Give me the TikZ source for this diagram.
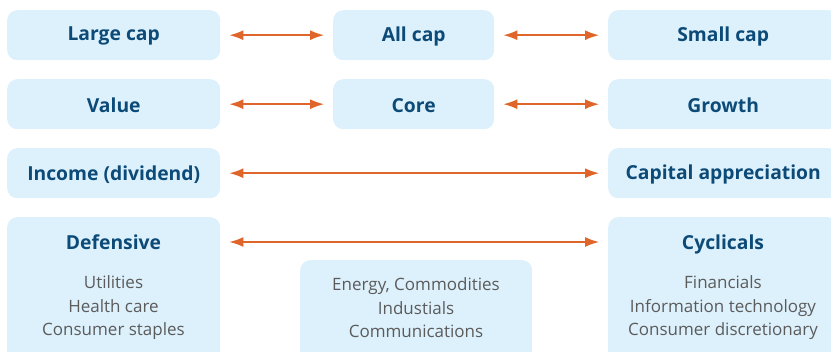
\documentclass[tikz,border=0pt]{standalone}
\usepackage{fontspec}
\setmainfont{Open Sans}
\usetikzlibrary{arrows.meta}
\definecolor{boxfill}{HTML}{DDF1FC}
\definecolor{titleblue}{HTML}{0C4A78}
\definecolor{itemgray}{HTML}{5B5B5B}
\definecolor{arroworange}{HTML}{E0652A}
\tikzset{
  box/.style={fill=boxfill, rounded corners=10pt, inner sep=0pt, anchor=north west},
  ttl/.style={text=titleblue, font=\fontsize{19.3}{22}\selectfont\bfseries, inner sep=0pt},
  itm/.style={text=itemgray, font=\fontsize{17}{23.5}\selectfont, align=center, inner sep=0pt},
  dbl/.style={arroworange, line width=1.4pt, {Latex[length=14pt,width=10pt]}-{Latex[length=14pt,width=10pt]}, shorten <=9pt, shorten >=9pt}
}
\begin{document}
\begin{tikzpicture}[x=1pt,y=-1pt]
\useasboundingbox (0,0) rectangle (831,352);
\clip (0,0) rectangle (831,352);
% row 1
\node[box, minimum width=213pt, minimum height=50pt] (lc) at (7,10) {};
\node[box, minimum width=161pt, minimum height=50pt] (ac) at (333,10) {};
\node[box, minimum width=230pt, minimum height=50pt] (sc) at (608,10) {};
\node[ttl] (lct) at ([yshift=-1pt]lc.center) {Large cap};
\node[ttl] (act) at ([yshift=-1pt]ac.center) {All cap};
\node[ttl] (sct) at ([yshift=-1pt]sc.center) {Small cap};
% row 2
\node[box, minimum width=213pt, minimum height=50pt] (va) at (7,79) {};
\node[box, minimum width=161pt, minimum height=50pt] (co) at (333,79) {};
\node[box, minimum width=230pt, minimum height=50pt] (gr) at (608,79) {};
\node[ttl] (vat) at ([yshift=-1pt]va.center) {Value};
\node[ttl] (cot) at ([yshift=-1pt]co.center) {Core};
\node[ttl] (grt) at ([yshift=-1pt]gr.center) {Growth};
% row 3
\node[box, minimum width=213pt, minimum height=50pt] (in) at (7,148) {};
\node[box, minimum width=230pt, minimum height=50pt] (ca) at (608,148) {};
\node[ttl] (int) at ([yshift=-1pt]in.center) {Income (dividend)};
\node[ttl] (cat) at ([yshift=-1pt]ca.center) {Capital appreciation};
% row 4
\node[box, minimum width=213pt, minimum height=150pt] (de) at (7,217) {};
\node[box, minimum width=232pt, minimum height=110pt] (mi) at (300,260) {};
\node[box, minimum width=230pt, minimum height=150pt] (cy) at (608,217) {};
\node[ttl] (det) at (113.5,242) {Defensive};
\node[ttl] (cyt) at (723,244) {Cyclicals};
\node[itm, anchor=north] (dei) at (113.5,275.5) {Utilities\\Health care\\Consumer staples};
\node[itm, anchor=north] (mii) at (416,277.5) {Energy, Commodities\\Industials\\Communications};
\node[itm, anchor=north] (cyi) at (723,275.5) {Financials\\Information technology\\Consumer discretionary};
% arrows
\draw[dbl] (lc.east) -- (ac.west);
\draw[dbl] (ac.east) -- (sc.west);
\draw[dbl] (va.east) -- (co.west);
\draw[dbl] (co.east) -- (gr.west);
\draw[dbl] (in.east) -- (ca.west);
\coordinate (dea) at (de.east |- 0,242);
\coordinate (cya) at (cy.west |- 0,242);
\draw[dbl] (dea) -- (cya);
\end{tikzpicture}
\end{document}
